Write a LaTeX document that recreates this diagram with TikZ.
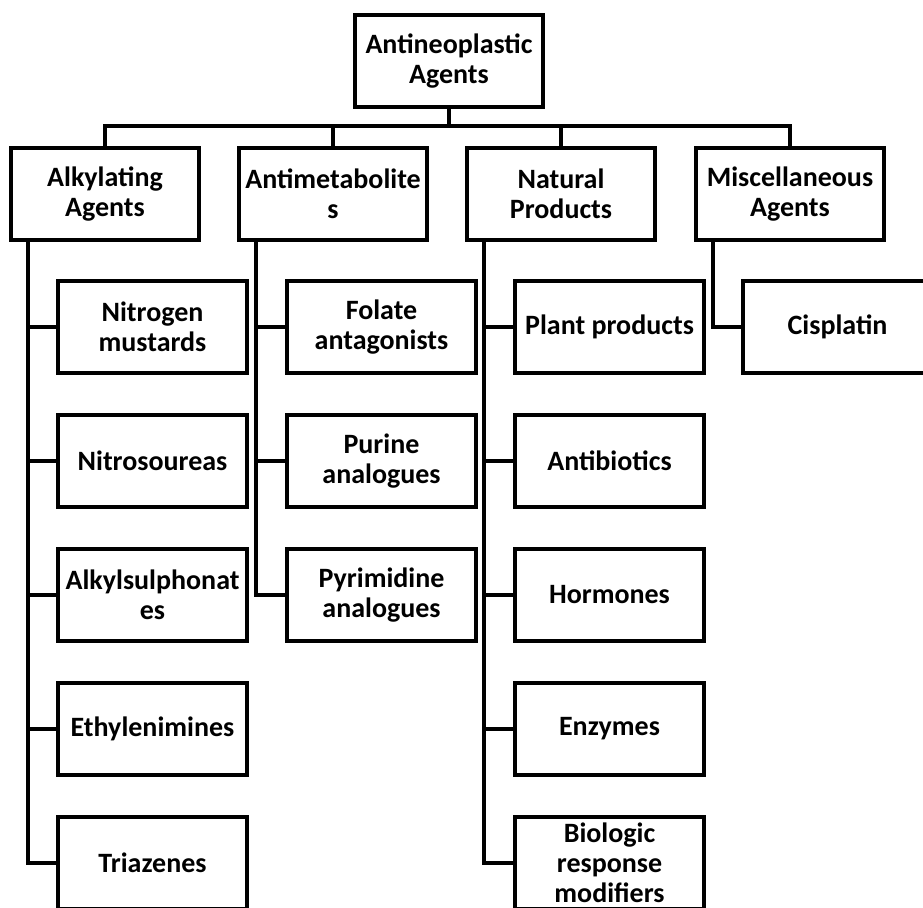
\documentclass[tikz,border=0pt]{standalone}
\usepackage{fontspec}
\setmainfont{Carlito}
\begin{document}
\begin{tikzpicture}[x=1pt,y=-1pt,
  box/.style={draw,line width=4.5pt,minimum width=188pt,minimum height=92pt,inner sep=0pt,
    align=center,font=\fontsize{28}{30}\selectfont\bfseries},
  sub/.style={box,minimum width=189pt},
  conn/.style={line width=4.5pt}]
\clip (0,0) rectangle (923,907);
\useasboundingbox (0,0) rectangle (923,907);
\fill[white] (0,0) rectangle (923,907);
% root
\node[box] (root) at (449,61) {Antineoplastic\\Agents};
% level 1
\node[box] (alk)  at (105,194) {Alkylating\\Agents};
\node[box] (anti) at (333,194) {Antimetabolite\\s};
\node[box] (nat)  at (561,194) {Natural\\Products};
\node[box] (misc) at (790,194) {Miscellaneous\\Agents};
% alkylating children
\node[sub] (nm)  at (152.5,327) {Nitrogen\\mustards};
\node[sub] (ns)  at (152.5,461) {Nitrosoureas};
\node[sub] (as)  at (152.5,595) {Alkylsulphonat\\es};
\node[sub] (eth) at (152.5,729) {Ethylenimines};
\node[sub] (tri) at (152.5,863) {Triazenes};
% antimetabolite children
\node[sub] (fol) at (381.5,327) {Folate\\antagonists};
\node[sub] (pur) at (381.5,461) {Purine\\analogues};
\node[sub] (pyr) at (381.5,595) {Pyrimidine\\analogues};
% natural products children
\node[sub] (pla) at (609.5,327) {Plant products};
\node[sub] (abx) at (609.5,461) {Antibiotics};
\node[sub] (hor) at (609.5,595) {Hormones};
\node[sub] (enz) at (609.5,729) {Enzymes};
\node[sub] (bio) at (609.5,863) {Biologic\\response\\modifiers};
% misc children
\node[sub] (cis) at (837.5,327) {Cisplatin};
% bus
\coordinate (bus) at (449,126);
\draw[conn] (root.south) -- (root.south |- bus);
\draw[conn] (alk.north) |- (bus) -| (misc.north);
\draw[conn] (anti.north) -- (anti.north |- bus);
\draw[conn] (nat.north) -- (nat.north |- bus);
% trunks
\coordinate (talk)  at ([xshift=19pt]alk.south west);
\coordinate (tanti) at ([xshift=19pt]anti.south west);
\coordinate (tnat)  at ([xshift=19pt]nat.south west);
\coordinate (tmisc) at ([xshift=19pt]misc.south west);
\draw[conn] (talk) |- (tri.west);
\foreach \n in {nm,ns,as,eth} \draw[conn] (\n.west) -- (\n.west -| talk);
\draw[conn] (tanti) |- (pyr.west);
\foreach \n in {fol,pur} \draw[conn] (\n.west) -- (\n.west -| tanti);
\draw[conn] (tnat) |- (bio.west);
\foreach \n in {pla,abx,hor,enz} \draw[conn] (\n.west) -- (\n.west -| tnat);
\draw[conn] (tmisc) |- (cis.west);
\end{tikzpicture}
\end{document}
